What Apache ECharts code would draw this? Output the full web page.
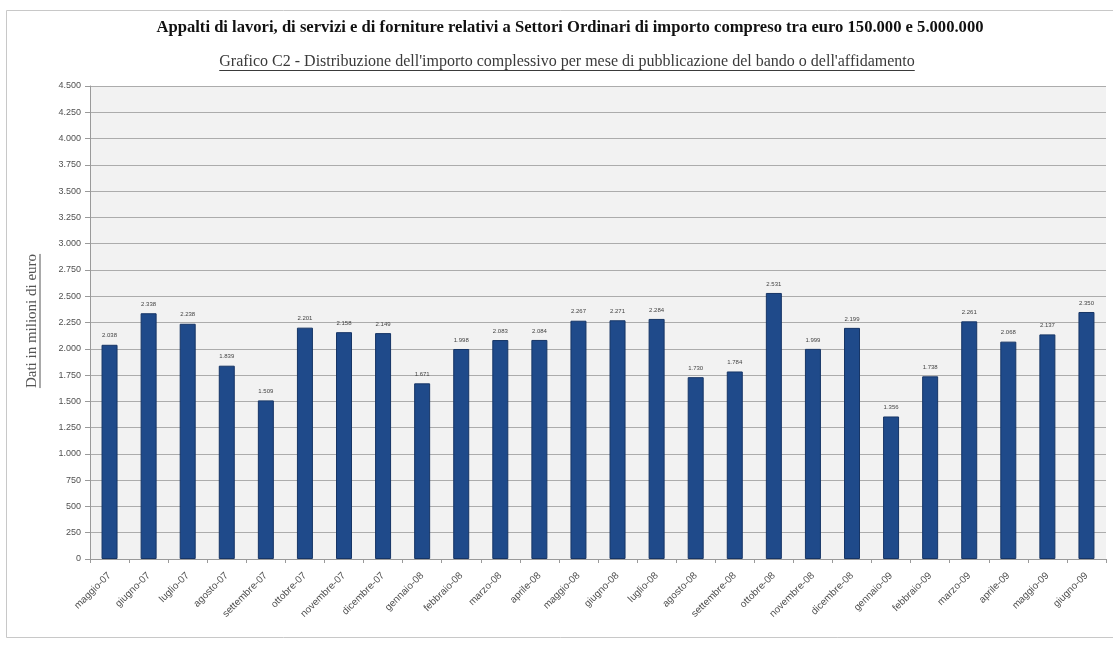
<!DOCTYPE html>
<html><head><meta charset="utf-8">
<script src="https://cdn.jsdelivr.net/npm/echarts@6/dist/echarts.min.js"></script>
<style>html,body{margin:0;padding:0;background:#fff}#c{width:1113px;height:646px}</style>
</head><body><div id="c"></div>
<script>
const titleText = "Appalti di lavori, di servizi e di forniture relativi a Settori Ordinari di importo compreso tra euro 150.000 e 5.000.000";
const subtitleText = "Grafico C2 - Distribuzione dell'importo complessivo per mese di pubblicazione del bando o dell'affidamento";
const yAxisName = "Dati in milioni di euro";
const months = ["maggio-07","giugno-07","luglio-07","agosto-07","settembre-07","ottobre-07","novembre-07","dicembre-07","gennaio-08","febbraio-08","marzo-08","aprile-08","maggio-08","giugno-08","luglio-08","agosto-08","settembre-08","ottobre-08","novembre-08","dicembre-08","gennaio-09","febbraio-09","marzo-09","aprile-09","maggio-09","giugno-09"];
const amounts = [2038,2338,2238,1839,1509,2201,2158,2149,1671,1998,2083,2084,2267,2271,2284,1730,1784,2531,1999,2199,1356,1738,2261,2068,2137,2350];
const yMin = 0, yMax = 4500, yStep = 250;

function fmt(v){ return String(Math.round(v)).replace(/\B(?=(\d{3})+(?!\d))/g, '.'); }

const titleFont = 'bold 16.6px "Liberation Serif", "DejaVu Serif", serif';
const subFont = '16px "Liberation Serif", "DejaVu Serif", serif';
const yNameFont = '15px "Liberation Serif", "DejaVu Serif", serif';

const ctx = document.createElement('canvas').getContext('2d');
ctx.font = subFont;
const sw = ctx.measureText(subtitleText).width;
ctx.font = yNameFont;
const yw = ctx.measureText(yAxisName).width;

const chart = echarts.init(document.getElementById('c'), null, {renderer:'canvas'});
chart.setOption({
  animation:false,
  backgroundColor:'#ffffff',
  grid:{left:90, right:7, top:86, bottom:87, show:true, backgroundColor:'#f2f2f2', borderWidth:0},
  graphic:[
    {type:'rect', shape:{x:6.5,y:10.5,width:1120,height:627}, style:{fill:'none',stroke:'#c8c8c8',lineWidth:1}, z:-1},
    {type:'text', x:570, y:28, style:{text:titleText, font:titleFont, fill:'#111', align:'center', verticalAlign:'middle'}},
    {type:'text', x:567, y:62, style:{text:subtitleText, font:subFont, fill:'#3a3a3a', align:'center', verticalAlign:'middle'}},
    {type:'line', shape:{x1:567-sw/2, y1:70.5, x2:567+sw/2, y2:70.5}, style:{stroke:'#3a3a3a', lineWidth:1}},
    {type:'group', x:32, y:321, rotation:Math.PI/2, children:[
      {type:'text', x:0, y:0, style:{text:yAxisName, font:yNameFont, fill:'#555', align:'center', verticalAlign:'middle'}},
      {type:'line', shape:{x1:-yw/2, y1:8, x2:yw/2, y2:8}, style:{stroke:'#555', lineWidth:1}}
    ]}
  ],
  xAxis:{
    type:'category', data:months, boundaryGap:true,
    axisLine:{lineStyle:{color:'#9a9a9a'}},
    axisTick:{show:true, length:4, lineStyle:{color:'#9a9a9a'}},
    axisLabel:{rotate:45, fontSize:10, color:'#505050', fontFamily:'"Liberation Sans", "DejaVu Sans", sans-serif', margin:15, interval:0},
    splitLine:{show:false}
  },
  yAxis:{
    type:'value', min:yMin, max:yMax, interval:yStep,
    axisLine:{show:true, lineStyle:{color:'#9a9a9a'}},
    axisTick:{show:true, length:5, lineStyle:{color:'#9a9a9a'}},
    axisLabel:{fontSize:9, color:'#505050', fontFamily:'"Liberation Sans", "DejaVu Sans", sans-serif', margin:9, formatter:fmt},
    splitLine:{show:true, lineStyle:{color:'#acacac', width:1}}
  },
  series:[{
    type:'bar', data:amounts, barWidth:16,
    itemStyle:{color:'#1f4a8a', borderColor:'#163566', borderWidth:1},
    label:{show:true, position:'top', distance:6, fontSize:6, color:'#444', fontFamily:'"Liberation Sans", "DejaVu Sans", sans-serif', formatter:p=>fmt(p.value)}
  }]
});
</script></body></html>
